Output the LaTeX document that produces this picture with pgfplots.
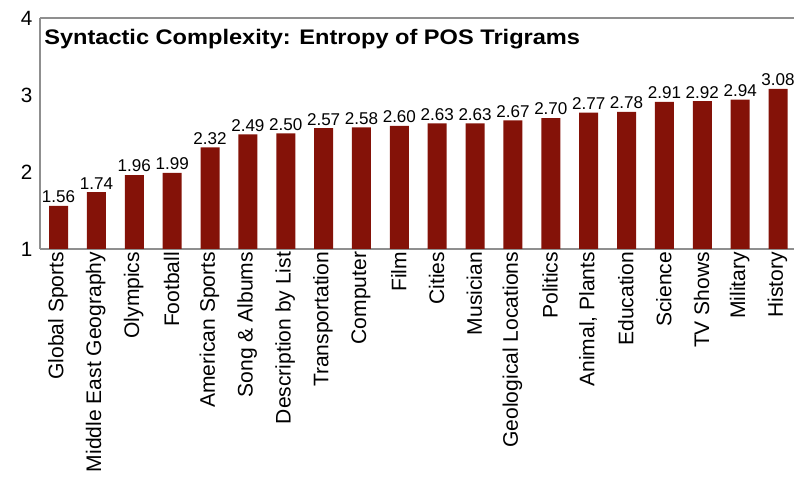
\documentclass[border=0pt]{standalone}
\usepackage{pgfplots}
\pgfplotsset{compat=1.18}
\usepackage{graphicx}
\usepackage{fontspec}
\setmainfont{Liberation Sans}
\definecolor{barred}{HTML}{841208}
\definecolor{axgray}{HTML}{8F8F8F}
\begin{document}
\begin{tikzpicture}
\begin{axis}[
  name=ax,
  at={(0,0)}, anchor=south west,
  scale only axis,
  width=565.5pt, height=173.25pt,
  ymin=1, ymax=4,
  ytick={1,2,3,4},
  xmin=-0.489, xmax=19.42,
  xtick=data,
  xticklabels={Global Sports,Middle East Geography,Olympics,Football,American Sports,Song \& Albums,Description by List,Transportation,Computer,Film,Cities,Musician,Geological Locations,Politics,{Animal, Plants},Education,Science,TV Shows,Military,History},
  x tick label style={rotate=90, anchor=east, font=\fontsize{15.8}{18}\selectfont, inner sep=1pt, xshift=-1pt, yshift=0.5pt},
  y tick label style={font=\fontsize{15.5}{17}\selectfont, inner sep=1pt, xshift=-10pt, anchor=center},
  /pgf/number format/assume math mode=true,
  major tick length=0pt,
  axis line style={draw=axgray, line width=1.1pt},
  axis x line*=bottom,
  axis y line*=left,
  ybar, bar width=14.25pt,
  nodes near coords,
  nodes near coords style={font=\fontsize{12.8}{14}\selectfont, inner sep=2pt, /pgf/number format/.cd, fixed, fixed zerofill, precision=2, assume math mode=true},
  clip=false,
]
\addplot[fill=barred, draw=none] coordinates {
(0,1.56) (1,1.74) (2,1.96) (3,1.99) (4,2.32) (5,2.49) (6,2.50) (7,2.57) (8,2.58) (9,2.60)
(10,2.63) (11,2.63) (12,2.67) (13,2.70) (14,2.77) (15,2.78) (16,2.91) (17,2.92) (18,2.94) (19,3.08)};
\draw[axgray, line width=1.1pt] (rel axis cs:0,1) -- (rel axis cs:1,1);
\node[anchor=north west, inner sep=0pt] at ([xshift=3pt,yshift=-8pt]rel axis cs:0,1) {\scalebox{1.12}[1]{\bfseries\fontsize{15.8}{18}\selectfont Syntactic Complexity: Entropy of POS Trigrams}};
\coordinate (pSW) at (rel axis cs:0,0);
\coordinate (pNE) at (rel axis cs:1,1);
\end{axis}
\pgfresetboundingbox
\path ([xshift=-30pt,yshift=-173.25pt]pSW) rectangle ([yshift=13.5pt]pNE);
\end{tikzpicture}
\end{document}
